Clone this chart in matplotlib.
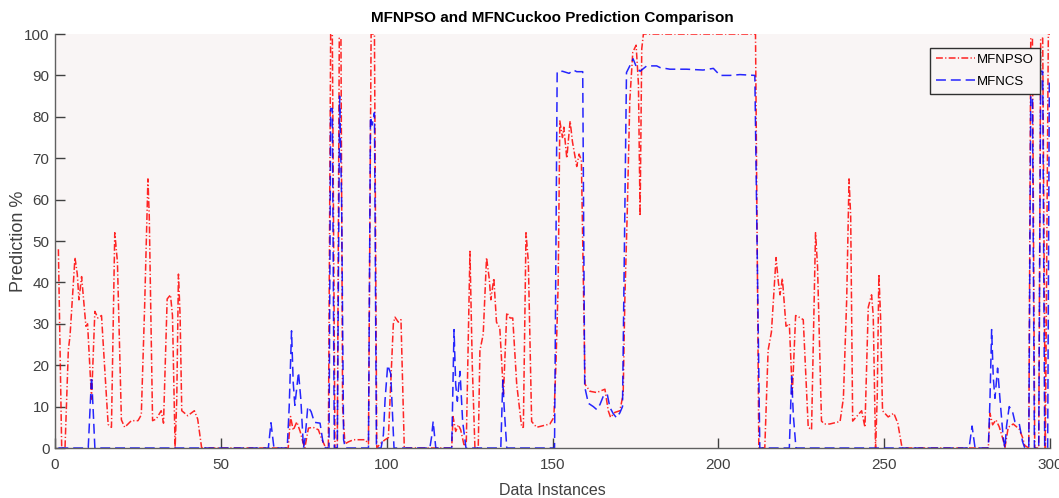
import numpy as np
import matplotlib
matplotlib.use('Agg')
import matplotlib.pyplot as plt

# values (x = data instance, y = prediction %)
# MFNPSO (red, dash-dot)
pso_x = [1, 2, 3, 4, 4.5, 6, 6.7, 7.2, 8, 9.3, 9.8, 11, 12, 12.9, 14, 16, 17, 18, 18.8, 20, 21, 23, 25, 26, 27,
         28, 28.4, 29.4, 30.5, 32, 32.7, 33.8, 34.8, 35.4, 36.2, 36.7, 37.2, 37.7, 38.2, 40, 42, 43, 44.2,
         70.3, 71, 71.8, 72.9, 73.9, 74.8, 75.3, 76.4, 77.8, 79.4, 80.3, 81.4, 82.4, 83.1, 83.6, 84.4, 85.1,
         85.7, 86.2, 86.7, 87.4, 88.5, 90, 92.5, 93.5, 94.5, 95.3, 96.3, 97, 98, 99.5, 100.5, 101, 102, 102.5,
         103.5, 104.3, 105.3,
         119.6, 120, 120.8, 121.6, 122.3, 123.4, 124, 125.1, 125.8, 126.6, 127.6, 128.1, 129.1, 130.1, 130.9,
         131.4, 132.3, 133.1, 134.1, 135.2, 136.2, 137.2, 138, 139.2, 140.7, 141.2, 142, 142.7, 143.7, 145.2,
         147.2, 149.2, 150.4, 151, 151.7, 152.2, 153, 153.4, 154.3, 155.3, 156, 157.3, 158, 158.7, 159.8,
         161.3, 163.3, 165.8, 166.8, 167.5, 168.8, 170.3, 171.3, 171.8, 172.5, 173.3, 174.2, 175.2, 175.9,
         176.4, 176.9, 177.4,
         211.2, 212.2, 213, 214, 215, 216, 217.4, 218.1, 218.6, 219.3, 220.4, 221.4, 222.3, 223.3, 224.6,
         225.6, 227.1, 228.1, 229.3, 229.9, 231.1, 232, 233.6, 236.7, 237.7, 238.7, 239.4, 239.9, 240.5,
         241.7, 243.2, 244.2, 245.2, 246.2, 246.7, 247.4, 247.9, 248.4, 248.9, 249.5, 251.2, 252.9, 254.1,
         255.4,
         281.4, 281.9, 282.7, 283.7, 284.7, 285.9, 286.4, 287.4, 288.9, 290.7, 291.7, 292.4, 293.6, 294.2,
         294.7, 295.4, 296.6, 297.2, 297.8, 298.6, 299.5, 300]
pso_y = [48, 0, 0, 23.7, 27, 46, 42, 35.8, 41.4, 29.4, 30, 11.8, 33, 31.4, 32, 5.7, 5, 52, 45, 6.8, 5, 6.6, 6.6, 8, 34,
         65, 56, 6.6, 7, 9, 6, 36, 37, 32, 0, 12, 42, 32, 9, 7.8, 9, 7, 0,
         0, 7.6, 4.3, 6.3, 4, 1.2, 0, 4.8, 5, 4.4, 2.4, 0.4, 0, 100, 100, 0, 0,
         99, 99, 10, 1, 1.5, 2, 2, 2, 1, 100, 100, 0, 1, 2, 2.5, 11.6, 30, 31.6,
         30.4, 31, 0,
         0, 7.6, 4, 5.6, 4.4, 0.4, 1.6, 47.5, 20, 0, 0, 23.5, 27.5, 46, 41,
         35.8, 41, 30.4, 29, 13, 32.7, 31.4, 31.4, 15.4, 5, 5, 52, 45, 6.4, 5,
         5.4, 5.8, 7.4, 19.5, 39.6, 79, 75, 77.5, 70, 79, 74, 68, 71, 69.5, 15.4,
         13.7, 13.4, 14.2, 9, 7.4, 8.6, 9, 13, 35.8, 56, 84, 95.6, 97.3, 88,
         56, 96.4, 100,
         100, 0, 0, 0, 23.6, 28, 46, 40, 37, 41, 29.4, 30, 13, 32, 31.5,
         31, 5, 4.4, 52, 44, 6.5, 5.8, 5.8, 6.4, 12, 36, 65, 56, 6.5,
         7.6, 9, 5, 34, 37, 32, 0, 12, 42, 32, 9, 7.5, 8.4, 6,
         0,
         0, 8.4, 5.6, 6.8, 5.1, 1.9, 0, 5, 5.8, 4.6, 2.6, 0.6, 0, 99,
         99, 0, 0, 99, 99, 0, 100, 100]

# MFNCS (blue, dashed)
cs_x = [1, 10, 11, 11.5, 12,
        64.3, 65.1, 66,
        70, 70.6, 71.3, 71.8, 72.3, 73.4, 74.1, 74.9, 75.4, 76.2, 77.2, 78.2, 79.9, 80.9, 81.6,
        82.6, 83.1, 83.6, 84.2, 85.1, 85.8, 86.4, 87, 87.5,
        94.5, 95.1, 95.6, 96.3, 96.9,
        98.3, 99, 99.5, 100.3, 101.2, 101.8, 102.2,
        113, 113.5, 114, 114.8,
        119.6, 120.3, 120.8, 121.3, 122.1, 122.9, 123.9,
        134.4, 135, 135.4, 136.2,
        150.6, 151.4, 153, 155, 156.3, 157.3, 159.1,
        159.7, 160.8, 162.3, 163.3, 164.3, 165.3, 166.5, 167.3, 168.3, 169.3, 170.3, 171.1,
        172.3, 173.3, 174.3, 175.3, 176.4, 178.4, 181.4, 182.4, 185.4, 190.4, 195.4, 198.5, 200.5, 203.5,
        206.5, 211, 212.5,
        221.4, 222.1, 222.6, 223.4,
        275.6, 276.5, 277.4,
        281.4, 281.9, 282.4, 282.9, 283.4, 284.2, 284.9, 285.9, 286.4, 286.9, 287.7, 288.7, 289.4, 290.7,
        291.7, 292.4,
        293.6, 294.2, 294.7, 295.3, 296.6, 297.2, 297.8, 298.4, 299.3, 299.8, 300]
cs_y = [0, 0, 17.2, 9, 0,
        0, 6.1, 0,
        0, 10, 28.3, 15.9, 10.3, 18.3, 11.8, 0, 2.4, 10, 8.8, 6.2, 6, 0.8, 0,
        0, 82, 82, 0, 0, 85, 60, 2, 0,
        0, 80, 78, 81, 0,
        0, 3.2, 11.6, 20, 18, 7.5, 0,
        0, 2.5, 6.4, 0,
        0, 28.6, 15.3, 11.3, 18.5, 6.4, 0,
        0, 16.4, 10, 0,
        0, 90.9, 91, 90.5, 91.3, 90.9, 90.9,
        14.8, 10.8, 10, 9.3, 10.5, 12.5, 13, 9.8, 8.3, 7.3, 8.5, 10,
        90.7, 92.3, 94, 92, 91, 92.3, 92.3, 91.9, 91.5, 91.5, 91.3, 91.7, 90, 90,
        90.2, 90, 0,
        0, 17.3, 8, 0,
        0, 5.3, 0,
        0, 11.6, 28.6, 17, 12, 19.3, 12, 2.4, 0, 5.3, 10, 8.8, 6.4, 6,
        1.6, 0,
        0, 85, 85, 0, 0, 91, 91, 0, 0, 89, 89]

x_ticks = [0, 50, 100, 150, 200, 250, 300]
y_ticks = list(range(0, 101, 10))

font = ['Liberation Sans', 'DejaVu Sans']

fig = plt.figure(figsize=(10.59, 4.98), dpi=100)
ax = fig.add_axes([0.052, 0.1004, 0.9395, 0.8313])
ax.set_facecolor('#f9f5f5')

ax.plot(pso_x, pso_y, color='red', lw=1.1, alpha=0.85,
        dashes=[4.5, 1.5, 0.8, 1.5], label='MFNPSO')
ax.plot(cs_x, cs_y, color='blue', lw=1.1, alpha=0.85,
        dashes=[6.5, 3.2], label='MFNCS')

ax.set_xlim(0, 300)
ax.set_ylim(0, 100)
ax.set_xticks(x_ticks)
ax.set_yticks(y_ticks)

for side in ['top', 'right']:
    ax.spines[side].set_visible(False)
for side in ['left', 'bottom']:
    ax.spines[side].set_color('#606060')
    ax.spines[side].set_linewidth(1.0)

ax.tick_params(axis='both', direction='in', length=7, width=1, color='#404040',
               labelcolor='#404040')
ax.tick_params(axis='x', pad=7)
ax.tick_params(axis='y', pad=4)
for lab in ax.get_xticklabels() + ax.get_yticklabels():
    lab.set_family(font)
    lab.set_fontsize(11)

ax.set_title('MFNPSO and MFNCuckoo Prediction Comparison', family=font,
             fontsize=11, fontweight='bold', pad=9)
ax.set_xlabel('Data Instances', family=font, fontsize=11.5, color='#404040')
ax.xaxis.set_label_coords(0.5, -0.085)
ax.set_ylabel('Prediction %', family=font, fontsize=13, color='#404040')
ax.yaxis.set_label_coords(-0.028, 0.5)

leg = ax.legend(loc='upper right', bbox_to_anchor=(0.99, 0.967), borderaxespad=0,
                prop={'family': font, 'size': 9.5}, handlelength=2.9,
                handletextpad=0.2, borderpad=0.45, labelspacing=0.75, fancybox=False)
leg.get_frame().set_edgecolor('#303030')
leg.get_frame().set_facecolor('#f9f5f5')
leg.get_frame().set_alpha(1)
leg.get_frame().set_linewidth(1.0)

plt.savefig('out.png', dpi=100)
